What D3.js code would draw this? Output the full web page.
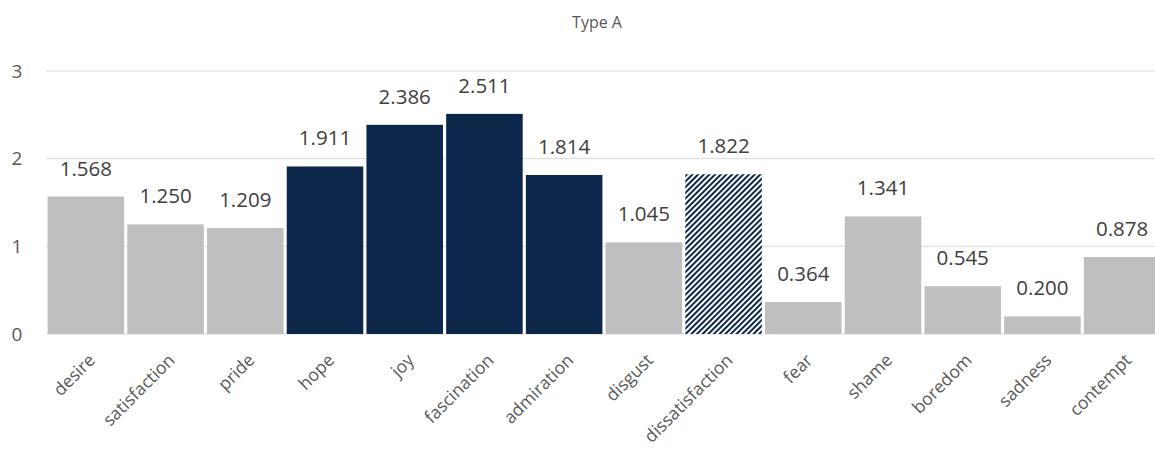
<!DOCTYPE html>
<html>
<head>
<meta charset="utf-8">
<script src="https://cdnjs.cloudflare.com/ajax/libs/d3/7.8.5/d3.min.js"></script>
<style>
  body { margin: 0; background: #fff; }
  text { font-family: "Open Sans", sans-serif; }
</style>
</head>
<body>
<div id="chart"></div>
<script>
var categories = ['desire', 'satisfaction', 'pride', 'hope', 'joy', 'fascination', 'admiration',
  'disgust', 'dissatisfaction', 'fear', 'shame', 'boredom', 'sadness', 'contempt'];
var values = [1.568, 1.250, 1.209, 1.911, 2.386, 2.511, 1.814, 1.045, 1.822, 0.364, 1.341, 0.545, 0.200, 0.878];
// fill kind per bar: g = grey, n = navy, h = hatched navy
var kinds = ['g', 'g', 'g', 'n', 'n', 'n', 'n', 'g', 'h', 'g', 'g', 'g', 'g', 'g'];
var yTicks = [0, 1, 2, 3];
var title = 'Type A';

var W = 1155, H = 450;
var margin = {top: 71, bottom: 116, left: 46};
var plotRight = 1162; // the plot runs slightly past the right edge of the picture

var svg = d3.select('#chart').append('svg')
  .attr('width', W).attr('height', H);

var defs = svg.append('defs');
var pat = defs.append('pattern')
  .attr('id', 'hatch')
  .attr('patternUnits', 'userSpaceOnUse')
  .attr('width', 4).attr('height', 4)
  .attr('patternTransform', 'rotate(45)');
pat.append('rect').attr('width', 4).attr('height', 4).attr('fill', '#fff');
pat.append('rect').attr('width', 2).attr('height', 4).attr('fill', '#0c2749');

var x = d3.scaleBand()
  .domain(categories)
  .range([margin.left, plotRight])
  .paddingInner(0.04)
  .paddingOuter(0.02);

var y = d3.scaleLinear()
  .domain([0, 3])
  .range([H - margin.bottom, margin.top]);

// gridlines
svg.append('g')
  .selectAll('line')
  .data(yTicks)
  .join('line')
  .attr('x1', margin.left).attr('x2', plotRight)
  .attr('y1', d => y(d)).attr('y2', d => y(d))
  .attr('stroke', '#d9d9d9').attr('stroke-width', 1);

// y tick labels
svg.append('g')
  .selectAll('text')
  .data(yTicks)
  .join('text')
  .attr('x', 17).attr('y', d => y(d))
  .attr('dy', '0.35em')
  .attr('text-anchor', 'middle')
  .attr('fill', '#595959')
  .attr('font-size', 19)
  .text(d => d);

var fillOf = {g: '#bfbfbf', n: '#0c2749', h: 'url(#hatch)'};

svg.append('g')
  .selectAll('rect')
  .data(categories)
  .join('rect')
  .attr('x', d => x(d))
  .attr('width', x.bandwidth())
  .attr('y', (d, i) => y(values[i]))
  .attr('height', (d, i) => y(0) - y(values[i]))
  .attr('fill', (d, i) => fillOf[kinds[i]]);

// value labels
svg.append('g')
  .selectAll('text')
  .data(categories)
  .join('text')
  .attr('x', d => x(d) + x.bandwidth() / 2)
  .attr('y', (d, i) => y(values[i]) - 21)
  .attr('text-anchor', 'middle')
  .attr('fill', '#404040')
  .attr('font-size', 20.5)
  .text((d, i) => values[i].toFixed(3));

// category labels
svg.append('g')
  .selectAll('text')
  .data(categories)
  .join('text')
  .attr('transform', d => 'translate(' + (x(d) + x.bandwidth() / 2 + 6) + ',' + (y(0) + 23) + ') rotate(-45)')
  .attr('text-anchor', 'end')
  .attr('dy', '0.35em')
  .attr('fill', '#595959')
  .attr('font-size', 17.5)
  .text(d => d);

svg.append('text')
  .attr('x', 597).attr('y', 28)
  .attr('text-anchor', 'middle')
  .attr('fill', '#595959')
  .attr('font-size', 16)
  .text(title);
</script>
</body>
</html>
